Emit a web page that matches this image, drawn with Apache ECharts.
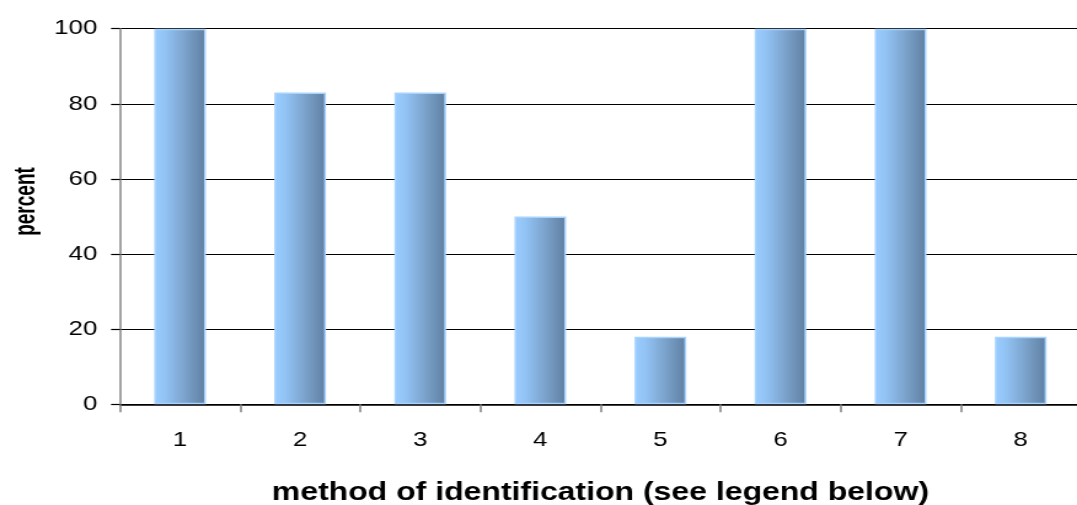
<!DOCTYPE html>
<html>
<head>
<meta charset="utf-8">
<script src="https://cdn.jsdelivr.net/npm/echarts@6/dist/echarts.min.js"></script>
<style>
  html, body { margin: 0; padding: 0; background: #fff; overflow: hidden; }
  #chart { width: 876px; height: 505px; transform: scaleX(1.2295); transform-origin: 0 0; }
</style>
</head>
<body>
<div id="chart"></div>
<script>
// Share of cases identified by each method
const methods = ['1', '2', '3', '4', '5', '6', '7', '8'];
const percentValues = [100, 83, 83, 50, 18, 100, 100, 18];
const yTicks = { min: 0, max: 100, step: 20 };
const xTitle = 'method of identification (see legend below)';
const yTitle = 'percent';

const FONT = '"Liberation Sans", Arial, sans-serif';

const chart = echarts.init(document.getElementById('chart'), null, { renderer: 'canvas' });

chart.setOption({
  animation: false,
  backgroundColor: '#ffffff',
  grid: {
    left: 97.6, right: -3, top: 28.7, bottom: 100.7,
    containLabel: false,
    outerBoundsMode: 'none'
  },
  xAxis: {
    type: 'category',
    data: methods,
    boundaryGap: true,
    name: xTitle,
    nameLocation: 'middle',
    nameGap: 76,
    nameTextStyle: { fontFamily: FONT, fontSize: 26, fontWeight: 'bold', color: '#000' },
    axisLine: { show: true, lineStyle: { color: '#000', width: 1.5 } },
    axisTick: { show: true, alignWithLabel: false, length: 8, lineStyle: { color: '#808080', width: 1.5 } },
    axisLabel: { fontFamily: FONT, fontSize: 21, color: '#000', margin: 25 },
    splitLine: { show: false }
  },
  yAxis: {
    type: 'value',
    min: yTicks.min,
    max: yTicks.max,
    interval: yTicks.step,
    axisLine: { show: true, lineStyle: { color: '#858585', width: 1.5 } },
    axisTick: { show: true, length: 7.3, lineStyle: { color: '#000', width: 1.2 } },
    axisLabel: { fontFamily: FONT, fontSize: 21, color: '#000', margin: 18.5 },
    splitLine: { show: true, lineStyle: { color: '#000', width: 1.2 } }
  },
  graphic: [{
    type: 'text',
    x: 20.7,
    y: 201.5,
    rotation: Math.PI / 2,
    scaleY: 1.3,
    style: {
      text: yTitle,
      fontFamily: FONT,
      fontSize: 19,
      fontWeight: 'bold',
      fill: '#000',
      textAlign: 'center',
      textVerticalAlign: 'middle'
    }
  }],
  series: [{
    type: 'bar',
    data: percentValues,
    barWidth: '43%',
    itemStyle: {
      color: new echarts.graphic.LinearGradient(0, 0, 1, 0, [
        { offset: 0, color: '#9accff' },
        { offset: 0.2, color: '#93c4f6' },
        { offset: 0.6, color: '#7ba2cb' },
        { offset: 1, color: '#5f7fa1' }
      ]),
      borderColor: '#a8d3ff',
      borderWidth: 1.5
    }
  }]
});
</script>
</body>
</html>
